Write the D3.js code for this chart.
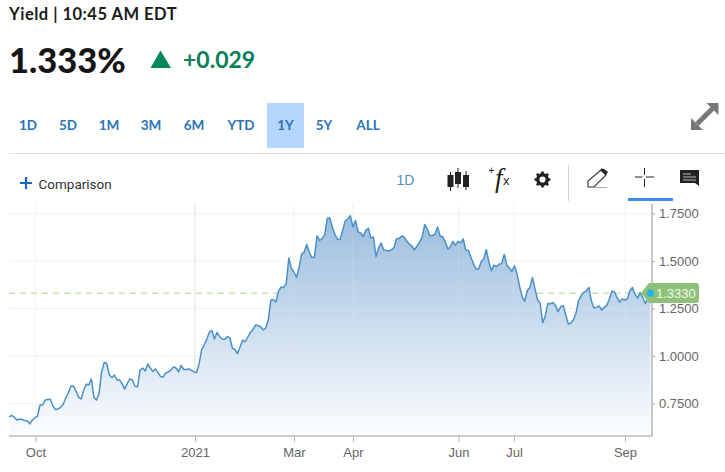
<!DOCTYPE html>
<html><head><meta charset="utf-8">
<script src="https://cdn.jsdelivr.net/npm/d3@7"></script>
<style>html,body{margin:0;padding:0;background:#fff}svg{display:block}</style>
</head><body><div id="c"></div>
<script>
const yields=[.679,.688,.676,.663,.668,.666,.660,.658,.643,.663,.674,.684,.742,.742,.768,.771,.772,.737,.718,.721,.730,.745,.779,.805,.842,.841,.816,.784,.774,.818,.852,.847,.879,.782,.768,.803,.916,.966,.962,.900,.887,.900,.874,.874,.853,.826,.856,.879,.874,.841,.838,.926,.937,.921,.958,.937,.918,.932,.911,.892,.889,.911,.916,.926,.942,.937,.916,.950,.929,.929,.932,.924,.916,.913,.958,1.032,1.058,1.089,1.124,1.135,1.089,1.124,1.103,1.089,1.088,1.103,1.095,1.042,1.033,1.013,1.047,1.084,1.075,1.100,1.124,1.139,1.163,1.160,1.154,1.138,1.147,1.189,1.295,1.296,1.284,1.342,1.363,1.361,1.382,1.516,1.461,1.442,1.413,1.466,1.537,1.547,1.587,1.546,1.518,1.521,1.632,1.608,1.618,1.639,1.725,1.726,1.676,1.639,1.613,1.614,1.663,1.711,1.721,1.739,1.679,1.713,1.654,1.647,1.629,1.661,1.672,1.621,1.626,1.523,1.568,1.595,1.558,1.556,1.553,1.559,1.570,1.617,1.619,1.632,1.626,1.605,1.588,1.579,1.559,1.579,1.599,1.626,1.692,1.668,1.633,1.634,1.642,1.679,1.632,1.628,1.602,1.563,1.574,1.603,1.584,1.603,1.595,1.616,1.558,1.555,1.521,1.485,1.458,1.458,1.496,1.511,1.561,1.496,1.449,1.478,1.471,1.484,1.486,1.534,1.479,1.463,1.445,1.474,1.432,1.366,1.311,1.289,1.345,1.361,1.413,1.353,1.296,1.279,1.175,1.211,1.276,1.274,1.282,1.266,1.233,1.259,1.265,1.216,1.168,1.174,1.191,1.225,1.292,1.318,1.335,1.342,1.361,1.289,1.253,1.256,1.263,1.242,1.256,1.266,1.300,1.341,1.337,1.308,1.284,1.300,1.295,1.300,1.342,1.361,1.324,1.305,1.332,1.308,1.276,1.303,1.333];
const xTickSessions=[10.2,72.4,111,134,175.2,196.8,240.1];
const xTickLabels=["Oct","2021","Mar","Apr","Jun","Jul","Sep"];
const yTicks=[.75,1,1.25,1.5,1.75];
const lastValue=1.333;
const rangeLabels=["1D","5D","1M","3M","6M","YTD","1Y","5Y","ALL"];
const rangeX=[28,68,109,151,194,241,285.5,324,368];

const W=725,H=472,L=9,R=652,B=436,T=204;
const svg=d3.select("#c").append("svg").attr("width",W).attr("height",H);
const sans="Lato,'Open Sans',sans-serif", arial="'Liberation Sans',Arial,sans-serif";
const x=d3.scaleLinear().domain([0,yields.length-1]).range([9.3,650.4]);
const y=d3.scaleLinear().domain([.75,1.75]).range([403.5,213.5]);

// header
svg.append("text").attr("x",9).attr("y",20).attr("font-family",sans).attr("font-weight",700).attr("font-size",16.5).attr("letter-spacing",.5).attr("fill","#1a1a1a").text("Yield | 10:45 AM EDT");
svg.append("text").attr("x",9).attr("y",73).attr("font-family",sans).attr("font-weight",900).attr("font-size",34.5).attr("fill","#151515").text("1.333%");
svg.append("path").attr("d","M150.5 68 L160.5 50.5 L171 68 Z").attr("fill","#00875a");
svg.append("text").attr("x",183).attr("y",68).attr("font-family",sans).attr("font-weight",700).attr("font-size",23).attr("fill","#0a8058").text("+0.029");

// range buttons
svg.append("rect").attr("x",267).attr("y",103).attr("width",37).attr("height",45).attr("fill","#b3d7fd");
svg.selectAll("text.r").data(rangeLabels).join("text").attr("class","r")
  .attr("x",(d,i)=>rangeX[i]).attr("y",130).attr("text-anchor","middle").attr("font-family",sans).attr("font-weight",700).attr("font-size",13.5).attr("fill","#2b74b5").text(d=>d);
svg.append("line").attr("x1",9).attr("x2",W).attr("y1",153.5).attr("y2",153.5).attr("stroke","#dedede").attr("stroke-width",1);

// expand icon
svg.append("path").attr("d","M691 130 V118 L703 130 Z M718.5 103 V115 L706.5 103 Z").attr("fill","#777");
svg.append("line").attr("x1",697).attr("y1",124).attr("x2",712.5).attr("y2",108.5).attr("stroke","#777").attr("stroke-width",5);

// toolbar
svg.append("path").attr("d","M20 183 H32 M26 177 V189").attr("stroke","#1f66c1").attr("stroke-width",2.2);
svg.append("text").attr("x",38.5).attr("y",189).attr("font-family","Roboto,sans-serif").attr("font-size",13.5).attr("fill","#333").text("Comparison");
svg.append("text").attr("x",396.5).attr("y",184.5).attr("font-family",arial).attr("font-size",14).attr("fill","#5b8fc2").text("1D");
const ic=svg.append("g").attr("fill","#222").attr("stroke","#222");
[[450.5,175,187,172,191],[458,172,184,168,188],[466,175,187,171,190]].forEach(c=>{
  ic.append("rect").attr("x",c[0]-3).attr("y",c[1]).attr("width",6).attr("height",c[2]-c[1]).attr("stroke","none");
  ic.append("line").attr("x1",c[0]).attr("x2",c[0]).attr("y1",c[3]).attr("y2",c[4]).attr("stroke-width",1);
});
svg.append("text").attr("x",488.5).attr("y",174).attr("font-family",arial).attr("font-size",10).attr("fill","#222").text("+");
svg.append("text").attr("x",495).attr("y",187).attr("font-family","'Liberation Serif',serif").attr("font-style","italic").attr("font-size",27).attr("fill","#222").text("f");
svg.append("text").attr("x",503).attr("y",185).attr("font-family",arial).attr("font-size",13).attr("fill","#222").text("x");
svg.append("circle").attr("cx",542.5).attr("cy",179.5).attr("r",4.8).attr("fill","none").attr("stroke","#222").attr("stroke-width",3.4);
svg.append("path").attr("d",d3.range(8).map(i=>{const a=i*Math.PI/4;return `M${542.5+5.5*Math.cos(a)} ${179.5+5.5*Math.sin(a)} L${542.5+8*Math.cos(a)} ${179.5+8*Math.sin(a)}`}).join(" ")).attr("stroke","#222").attr("stroke-width",2.6);
svg.append("line").attr("x1",568.5).attr("x2",568.5).attr("y1",165).attr("y2",201).attr("stroke","#d5d5d5");
svg.append("path").attr("d","M588 187 V181 L601 170 L606 175 L594 187 Z").attr("fill","none").attr("stroke","#333").attr("stroke-width",1.1);
svg.append("path").attr("d","M601 168.5 L604 169 L608 172 L606 175 L600.5 170.5 Z").attr("fill","#222");
svg.append("line").attr("x1",594).attr("x2",607).attr("y1",187.5).attr("y2",187.5).attr("stroke","#aaa");
svg.append("path").attr("d","M635 177 H642.5 M646 177 H654 M644.5 168 V175 M644.5 179 V187").attr("stroke","#222").attr("stroke-width",1);
svg.append("rect").attr("x",628).attr("y",198).attr("width",45).attr("height",3).attr("fill","#3b8ff0");
svg.append("path").attr("d","M680 170 H699 V186 L695 183 H680 Z").attr("fill","#222");
svg.append("path").attr("d","M683 174 H691 M683 177 H696 M683 180 H696").attr("stroke","#bbb").attr("stroke-width",1);

// grid
const plot=svg.append("g");
const grid=(stroke,strong)=>{
  const g=plot.append("g");
  g.selectAll("line.h").data(yTicks).join("line").attr("class","h").attr("x1",L).attr("x2",R).attr("y1",d=>y(d)).attr("y2",d=>y(d)).attr("stroke",stroke);
  g.selectAll("line.v").data(xTickSessions).join("line").attr("class","v").attr("x1",d=>x(d)).attr("x2",d=>x(d)).attr("y1",T).attr("y2",B).attr("stroke",(d,i)=>xTickLabels[i]==="2021"?strong:stroke);
};
grid("#f2f2f2","#dddddd");

// dashed last-value line
plot.append("line").attr("x1",L).attr("x2",643).attr("y1",y(lastValue)+.5).attr("y2",y(lastValue)+.5).attr("stroke","#c6e3b2").attr("stroke-width",1.3).attr("stroke-dasharray","6 5");

// area + line
const defs=svg.append("defs");
const g=defs.append("linearGradient").attr("id","ag").attr("gradientUnits","userSpaceOnUse").attr("x1",0).attr("x2",0).attr("y1",213).attr("y2",B);
g.append("stop").attr("offset",0).attr("stop-color","#9abcdd");
g.append("stop").attr("offset",1).attr("stop-color","#fcfdff");
plot.append("path").datum(yields).attr("fill","url(#ag)").attr("d",d3.area().x((d,i)=>x(i)).y0(B).y1(d=>y(d)));
grid("rgba(255,255,255,.14)","rgba(255,255,255,.14)");
plot.append("path").datum(yields).attr("fill","none").attr("stroke","#4a90c9").attr("stroke-width",1.5).attr("stroke-linejoin","round").attr("d",d3.line().x((d,i)=>x(i)).y(d=>y(d)));

// axes
const ax=svg.append("g").attr("transform",`translate(0,${B})`).call(d3.axisBottom(x).tickValues(xTickSessions).tickFormat((d,i)=>xTickLabels[i]).tickSize(6).tickPadding(6).tickSizeOuter(0));
ax.select(".domain").remove();
ax.selectAll("line").attr("stroke","#b5b5b5");
ax.selectAll("text").attr("font-family",arial).attr("font-size",13).attr("fill","#666");
svg.append("line").attr("x1",L).attr("x2",R+.5).attr("y1",B).attr("y2",B).attr("stroke","#bbb").attr("stroke-width",1.4);
const ay=svg.append("g").attr("transform",`translate(${R},0)`).call(d3.axisRight(y).tickValues(yTicks).tickFormat(d3.format(".4f")).tickSize(3).tickPadding(4).tickSizeOuter(0));
ay.select(".domain").remove();
ay.selectAll("line").attr("stroke","#aaa");
ay.selectAll("text").attr("font-family",arial).attr("font-size",13).attr("fill","#666");
svg.append("line").attr("x1",R).attr("x2",R).attr("y1",T).attr("y2",B).attr("stroke","#b0b0b0").attr("stroke-width",1.4);

// last value tag
const ty=y(lastValue)+.3;
svg.append("path").attr("d",`M641 ${ty} L649 ${ty-10} H696 Q699 ${ty-10} 699 ${ty-7} V${ty+7} Q699 ${ty+10} 696 ${ty+10} H649 Z`).attr("fill","#8cc177");
svg.append("circle").attr("cx",x(yields.length-1)).attr("cy",ty).attr("r",3.6).attr("fill","#1fb2f5");
svg.append("text").attr("x",656).attr("y",ty+4.7).attr("font-family",arial).attr("font-size",13).attr("fill","#f4f8f0").text(d3.format(".4f")(lastValue));
</script></body></html>
